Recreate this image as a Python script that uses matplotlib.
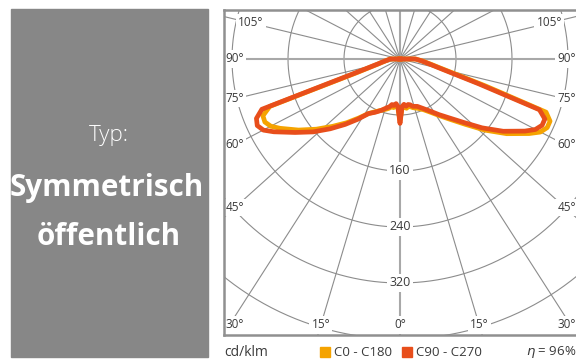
import numpy as np
import matplotlib.pyplot as plt
from matplotlib.patches import Rectangle

plt.rcParams['font.family'] = ['Open Sans', 'DejaVu Sans']

# photometric data, cd/klm, gamma measured from nadir
gamma = [0, 2.5, 5, 7.5, 10, 12.5, 15, 20, 25, 30, 35, 40, 45, 50, 55, 60,
         62.5, 65, 67.5, 70, 72.5, 75, 77.5, 80, 85, 90, 95]
c0 = [88, 70, 68, 71, 69, 70, 72, 75, 80, 88, 99, 113, 132, 158, 186, 213,
      226, 232, 232, 222, 128, 80, 58, 46, 32, 22, 0]
c180 = [88, 70, 67, 70, 69, 72, 74, 78, 83, 90, 103, 119, 136, 156, 177, 198,
        208, 213, 212, 198, 64, 42, 31, 25, 18, 14, 0]
c90 = [92, 68, 65, 68, 66, 67, 70, 72, 78, 86, 97, 110, 128, 153, 180, 206,
       218, 224, 224, 212, 118, 75, 55, 44, 31, 22, 0]
c270 = [92, 68, 64, 67, 66, 70, 72, 78, 84, 90, 105, 122, 141, 162, 183, 208,
        220, 225, 222, 210, 70, 44, 32, 26, 18, 14, 0]

ring_values = [80, 160, 240, 320, 400]
ring_labels = [160, 240, 320]
angle_labels = [0, 15, 30, 45, 60, 75, 90, 105]
eta = 96

col_c0 = '#f5a300'
col_c90 = '#e84e1b'
grid_col = '#8c8c8c'
text_col = '#3a3a3a'

W, H = 576, 360
fig = plt.figure(figsize=(W / 100, H / 100), dpi=100)

# grey type panel on the left
fig.patches.append(Rectangle((11 / W, 1 - 357 / H), 197 / W, 348 / H,
                             transform=fig.transFigure, color='#878787', zorder=0))
fig.text(109 / W, 1 - 135 / H, 'Typ:', color='white', fontsize=16,
         fontweight='light', ha='center', va='center')
fig.text(106.5 / W, 1 - 188 / H, 'Symmetrisch', color='white', fontsize=21.3,
         fontweight='bold', ha='center', va='center')
fig.text(109 / W, 1 - 237 / H, 'öffentlich', color='white', fontsize=21.3,
         fontweight='bold', ha='center', va='center')

# polar diagram drawn in a cartesian frame, 0.7 px per cd/klm
px = 0.7
ax = fig.add_axes([224 / W, 1 - 335 / H, 352 / W, 325 / H])
ax.set_xlim(-176 / px, 176 / px)
ax.set_ylim(-276 / px, 49 / px)
ax.set_xticks([])
ax.set_yticks([])
for side in ['left', 'top', 'bottom']:
    ax.spines[side].set_color('#909090')
    ax.spines[side].set_linewidth(1.8)
ax.spines['right'].set_visible(False)

t = np.linspace(0, 2 * np.pi, 400)
for rv in ring_values:
    ax.plot(rv * np.cos(t), rv * np.sin(t), color=grid_col, lw=0.8, zorder=1)

# spokes are drawn slightly flattened vertically
squash = 0.9
far = 1000
for a in range(0, 360, 15):
    g = np.radians(a)
    main = a % 90 == 0
    ax.plot([0, far * np.sin(g)], [0, -far * squash * np.cos(g)],
            color='#a8a8a8' if main else grid_col,
            lw=1.5 if main else 0.8, zorder=1)

box = dict(facecolor='white', edgecolor='none', pad=1.5)
for rv in ring_labels:
    ax.text(0, -rv, str(rv), fontsize=9, color=text_col, ha='center',
            va='center', bbox=box, zorder=2)

# angle labels sit where each spoke meets an inner margin of the frame
xin, ytop, ybot = 165 / px, 36 / px, 266 / px
for a in angle_labels:
    g = np.radians(a)
    s, c = np.sin(g), -squash * np.cos(g)
    for sign in ([1] if a == 0 else [-1, 1]):
        dx = sign * s
        hits = []
        if abs(dx) > 1e-9:
            hits.append(xin / abs(dx))
        if c < 0:
            hits.append(ybot / -c)
        elif c > 0:
            hits.append(ytop / c)
        k = min(hits)
        x, y = k * dx, k * c
        if y < -240 / px:
            y = -ybot
        if abs(abs(x) - xin) < 1e-6:
            xt = -174.5 / px if sign < 0 else 176 / px
            ha = 'left' if sign < 0 else 'right'
        else:
            xt, ha = x, 'center'
        ax.text(xt, y, f'{a}°', fontsize=8.5, color=text_col, ha=ha,
                va='center', bbox=box, zorder=2)


def plane(right, left):
    g = np.radians(gamma)
    r_r, r_l = np.array(right), np.array(left)
    x = np.concatenate([-r_l[::-1] * np.sin(g[::-1]), r_r * np.sin(g)])
    y = np.concatenate([-r_l[::-1] * np.cos(g[::-1]), -r_r * np.cos(g)])
    return x, y


x0, y0 = plane(c0, c180)
x90, y90 = plane(c90, c270)
ax.plot(x0, y0, color=col_c0, lw=3.4, solid_joinstyle='round', zorder=3)
ax.plot(x90, y90, color=col_c90, lw=3.4, solid_joinstyle='round', zorder=4)

# legend row under the diagram
ly = 1 - 352 / H
fig.text(224 / W, ly, 'cd/klm', fontsize=10, color=text_col, va='center')
fig.patches.append(Rectangle((320 / W, 1 - 357 / H), 10 / W, 10 / H,
                             transform=fig.transFigure, color=col_c0))
fig.text(334 / W, ly, 'C0 - C180', fontsize=9.5, color=text_col, va='center')
fig.patches.append(Rectangle((402 / W, 1 - 357 / H), 10 / W, 10 / H,
                             transform=fig.transFigure, color=col_c90))
fig.text(416 / W, ly, 'C90 - C270', fontsize=9.5, color=text_col, va='center')
fig.text(526 / W, ly, r'$\eta$' + f' = {eta}%', fontsize=9.5, color=text_col,
         va='center')

fig.savefig('out.png', dpi=100)
